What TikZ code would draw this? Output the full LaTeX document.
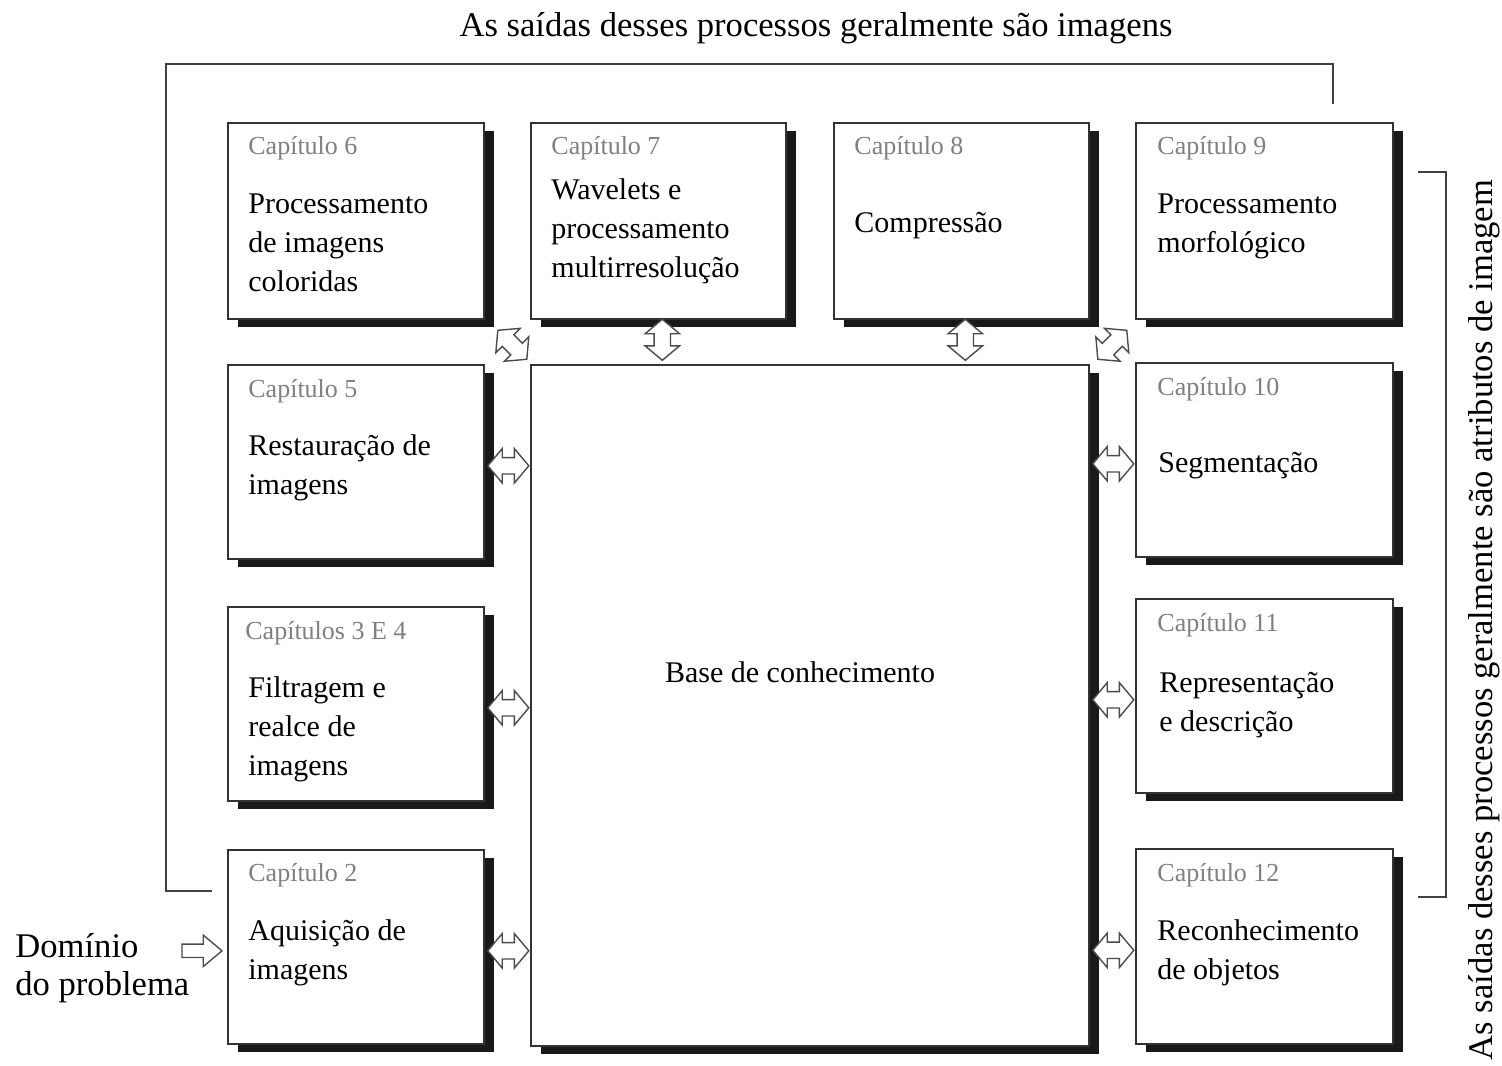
\documentclass[tikz,border=0pt]{standalone}
\usepackage{fontspec}
\setmainfont{Liberation Serif}
\usetikzlibrary{positioning, calc, shadows, shapes.arrows}

\newcommand{\linhas}[1]{\begin{tabular}[t]{@{}l@{}}#1\end{tabular}}

\tikzset{
  caixa/.style={draw=black!80, line width=.8pt, fill=white, anchor=north west,
    inner sep=0pt, minimum width=128pt, minimum height=97pt,
    drop shadow={shadow xshift=5pt, shadow yshift=-4pt, fill=black!90, opacity=1}},
  rotulo/.style={anchor=base west, inner sep=0pt, text=black!50,
    font=\fontsize{13}{15}\selectfont},
  texto/.style={anchor=base west, inner sep=0pt, font=\fontsize{15}{19.5}\selectfont},
  grande/.style={inner sep=0pt, font=\fontsize{17.3}{19}\selectfont},
  seta2/.style={double arrow, draw=black!70, fill=white, line width=.7pt,
    inner xsep=0pt, inner ysep=3.75pt, minimum height=20.5pt,
    double arrow head extend=4.5pt, double arrow tip angle=100},
  seta1/.style={single arrow, draw=black!70, fill=white, line width=.7pt,
    inner xsep=0pt, inner ysep=3pt, minimum height=20pt,
    single arrow head extend=4.5pt, single arrow tip angle=80},
  chave/.style={draw=black!75, line width=.8pt}
}

\begin{document}
\begin{tikzpicture}[x=0.5pt, y=-0.5pt]
\useasboundingbox (0,0) rectangle (1502,1065);

% Outer brackets
\draw[chave] (1333,104) |- (166,64) |- (212,891);
\draw[chave] (1418,172) -| (1446,897) -- (1418,897);

% Titles
\node[grande, anchor=base] (topo) at (816,37) {As saídas desses processos geralmente são imagens};
\node[grande, anchor=base, rotate=90] (lado) at (1492,620) {As saídas desses processos geralmente são atributos de imagem};

% Boxes, top row
\node[caixa, minimum height=98pt] (cap6) at (227,122) {};
\node[caixa, minimum height=98pt, minimum width=127.5pt] (cap7) at (530,122) {};
\node[caixa, minimum height=98pt, minimum width=127.5pt] (cap8) at (833,122) {};
\node[caixa, minimum height=98pt, minimum width=128.5pt] (cap9) at (1135,122) {};

% Boxes, left and right columns
\node[caixa] (cap5) at (227,364) {};
\node[caixa] (cap34) at (227,606) {};
\node[caixa] (cap2) at (227,849) {};
\node[caixa, minimum width=128.5pt] (cap10) at (1135,362) {};
\node[caixa, minimum width=128.5pt] (cap11) at (1135,598) {};
\node[caixa, minimum width=128.5pt, minimum height=97.5pt] (cap12) at (1135,848) {};

% Knowledge base
\node[caixa, minimum width=279pt, minimum height=340.5pt] (base) at (530,364) {};
\node[texto, anchor=base] (basetxt) at (800,682) {Base de conhecimento};

% Chapter labels
\node[rotulo] at ($(cap6.north west)+(21,33)$) {Capítulo 6};
\node[rotulo] at ($(cap7.north west)+(21,33)$) {Capítulo 7};
\node[rotulo] at ($(cap8.north west)+(21,33)$) {Capítulo 8};
\node[rotulo] at ($(cap9.north west)+(22,33)$) {Capítulo 9};
\node[rotulo] at ($(cap5.north west)+(21,33)$) {Capítulo 5};
\node[rotulo] at ($(cap34.north west)+(18,33)$) {Capítulos 3 E 4};
\node[rotulo] at ($(cap2.north west)+(21,32)$) {Capítulo 2};
\node[rotulo] at ($(cap10.north west)+(22,33)$) {Capítulo 10};
\node[rotulo] at ($(cap11.north west)+(22,33)$) {Capítulo 11};
\node[rotulo] at ($(cap12.north west)+(22,33)$) {Capítulo 12};

% Box texts
\node[texto] at ($(cap6.north west)+(21,91)$) {\linhas{Processamento\\de imagens\\coloridas}};
\node[texto] at ($(cap7.north west)+(21,77)$) {\linhas{Wavelets e\\processamento\\multirresolução}};
\node[texto] at ($(cap8.north west)+(21,110)$) {Compressão};
\node[texto] at ($(cap9.north west)+(22,91)$) {\linhas{Processamento\\morfológico}};
\node[texto] at ($(cap5.north west)+(21,91)$) {\linhas{Restauração de\\imagens}};
\node[texto] at ($(cap34.north west)+(21,91)$) {\linhas{Filtragem e\\realce de\\imagens}};
\node[texto] at ($(cap2.north west)+(21,91)$) {\linhas{Aquisição de\\imagens}};
\node[texto] at ($(cap10.north west)+(23,110)$) {Segmentação};
\node[texto] at ($(cap11.north west)+(24,94)$) {\linhas{Representação\\e descrição}};
\node[texto] at ($(cap12.north west)+(22,92)$) {\linhas{Reconhecimento\\de objetos}};

% Arrows to the knowledge base
\node[seta2] (s5) at ($(cap5.east)!.5!(base.west |- cap5.east)+(1,4)$) {};
\node[seta2] (s34) at ($(cap34.east)!.5!(base.west |- cap34.east)+(1,4)$) {};
\node[seta2] (s2) at ($(cap2.east)!.5!(base.west |- cap2.east)+(1,4)$) {};
\node[seta2] (s10) at ($(cap10.west)!.5!(base.east |- cap10.west)+(1,4)$) {};
\node[seta2] (s11) at ($(cap11.west)!.5!(base.east |- cap11.west)+(1,4)$) {};
\node[seta2] (s12) at ($(cap12.west)!.5!(base.east |- cap12.west)+(1,4)$) {};
\node[seta2, rotate=90] (s7) at ($(cap7.south)!.5!(cap7.south |- base.north)+(4,-2)$) {};
\node[seta2, rotate=90] (s8) at ($(cap8.south)!.5!(cap8.south |- base.north)+(4,-2)$) {};
\node[seta2, rotate=-45] (s6) at ($(cap6.south east)!.5!(base.north west)+(5,3)$) {};
\node[seta2, rotate=45] (s9) at ($(cap9.south west)!.5!(base.north east)+(0,3)$) {};

% Problem domain
\node[grande, anchor=base west] (dominio) at (15,957) {\linhas{Domínio\\do problema}};
\node[seta1] (sdom) at ($(cap2.west)+(-29,4)$) {};

\end{tikzpicture}
\end{document}
